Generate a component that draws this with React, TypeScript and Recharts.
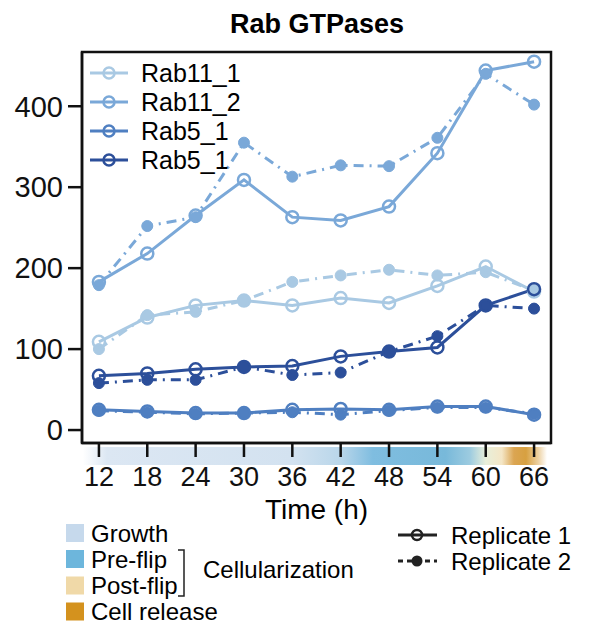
import { LineChart, Line, XAxis, YAxis } from "recharts";

const times = [12, 18, 24, 30, 36, 42, 48, 54, 60, 66];
const xTicks = [12, 18, 24, 30, 36, 42, 48, 54, 60, 66];
const yTicks = [0, 100, 200, 300, 400];

const rab11_1_rep1 = [109, 139, 154, 160, 154, 163, 157, 178, 202, 171];
const rab11_1_rep2 = [100, 142, 146, 160, 183, 191, 198, 191, 195, 172];
const rab11_2_rep1 = [183, 218, 265, 309, 263, 259, 276, 342, 444, 455];
const rab11_2_rep2 = [179, 252, 263, 355, 313, 327, 326, 361, 440, 402];
const rab5a_rep1 = [25, 23, 21, 21, 25, 26, 25, 29, 29, 19];
const rab5a_rep2 = [24, 22, 20, 21, 22, 19, 24, 28, 28, 20];
const rab5b_rep1 = [67, 70, 75, 78, 79, 91, 97, 102, 154, 174];
const rab5b_rep2 = [58, 62, 62, 78, 68, 71, 97, 116, 154, 150];

const geneNames = ["Rab11_1", "Rab11_2", "Rab5_1", "Rab5_1"];
const geneColors = ["#a9c9e3", "#7aa8d8", "#4f7fc1", "#2c4f9a"];

const stageNames = ["Growth", "Pre-flip", "Post-flip", "Cell release"];
const stageColors = ["#c6d9ec", "#6db6dc", "#f0d9a8", "#d4921e"];

// time-bar colour stops, in hours
const stageStops: [number, string][] = [
  [10, "#ffffff"],
  [13, "#dce7f3"],
  [36, "#d3e2f0"],
  [42, "#b9d6ea"],
  [46, "#7fbde0"],
  [55, "#78b9da"],
  [58, "#9ccbe0"],
  [60, "#e8efda"],
  [62, "#f4e6c6"],
  [63.5, "#dba552"],
  [65, "#d7a040"],
  [66.5, "#ecd0a0"],
  [67.7, "#ffffff"],
];

const data = times.map((t, i) => ({
  t,
  a1: rab11_1_rep1[i],
  a2: rab11_1_rep2[i],
  b1: rab11_2_rep1[i],
  b2: rab11_2_rep2[i],
  c1: rab5a_rep1[i],
  c2: rab5a_rep2[i],
  d1: rab5b_rep1[i],
  d2: rab5b_rep2[i],
}));

const series = [
  { key: "a", color: geneColors[0] },
  { key: "b", color: geneColors[1] },
  { key: "c", color: geneColors[2] },
  { key: "d", color: geneColors[3] },
];

const X_DOMAIN: [number, number] = [9.9, 68.1];
const Y_DOMAIN: [number, number] = [-16, 467];
const PLOT = { left: 82, right: 551, top: 52, bottom: 443 };
const FONT = "'Liberation Sans', Arial, sans-serif";
const DASH = "10 6 2 6";

const hourToPx = (h: number) =>
  PLOT.left + ((h - X_DOMAIN[0]) / (X_DOMAIN[1] - X_DOMAIN[0])) * (PLOT.right - PLOT.left);

function TimeBar() {
  const x0 = PLOT.left;
  const x1 = 547;
  return (
    <svg width={602} height={631} style={{ position: "absolute", left: 0, top: 0 }}>
      <defs>
        <linearGradient id="stage" x1="0" x2="1" y1="0" y2="0">
          {stageStops.map(([h, c], i) => (
            <stop key={i} offset={(hourToPx(h) - x0) / (x1 - x0)} stopColor={c} />
          ))}
        </linearGradient>
      </defs>
      <rect x={x0} y={447} width={x1 - x0} height={18} fill="url(#stage)" />
    </svg>
  );
}

function Overlay() {
  const rowsTop = [73, 102, 131, 160];
  const rowsBottom = [533, 559, 585.5, 611.5];
  return (
    <svg width={602} height={631} style={{ position: "absolute", left: 0, top: 0 }} fontFamily={FONT}>
      <rect
        x={PLOT.left}
        y={PLOT.top}
        width={PLOT.right - PLOT.left}
        height={PLOT.bottom - PLOT.top}
        fill="none"
        stroke="#111"
        strokeWidth={2.5}
      />
      <text x={317} y={33} textAnchor="middle" fontSize={27} fontWeight="bold">
        Rab GTPases
      </text>
      <text x={316.5} y={519} textAnchor="middle" fontSize={28}>
        Time (h)
      </text>
      {geneNames.map((n, i) => (
        <g key={i}>
          <line x1={90} x2={128} y1={rowsTop[i]} y2={rowsTop[i]} stroke={geneColors[i]} strokeWidth={3} />
          <circle cx={109} cy={rowsTop[i]} r={5.5} fill="none" stroke={geneColors[i]} strokeWidth={2.5} />
          <text x={141} y={rowsTop[i] + 8.5} fontSize={25}>
            {n}
          </text>
        </g>
      ))}
      {stageNames.map((n, i) => (
        <g key={i}>
          <rect x={66} y={rowsBottom[i] - 9} width={18} height={18} fill={stageColors[i]} />
          <text x={91} y={rowsBottom[i] + 8.5} fontSize={24}>
            {n}
          </text>
        </g>
      ))}
      <path d="M178,550 H184 V596 H178" fill="none" stroke="#222" strokeWidth={1.5} />
      <text x={203} y={577.5} fontSize={24}>
        Cellularization
      </text>
      <line x1={398} x2={437} y1={535} y2={535} stroke="#222" strokeWidth={3} />
      <circle cx={417} cy={535} r={5} fill="none" stroke="#222" strokeWidth={2.5} />
      <text x={451} y={543.5} fontSize={24}>
        Replicate 1
      </text>
      <line x1={398} x2={437} y1={561} y2={561} stroke="#222" strokeWidth={3} strokeDasharray="5 4" />
      <circle cx={417} cy={561} r={5.5} fill="#222" />
      <text x={451} y={569.5} fontSize={24}>
        Replicate 2
      </text>
    </svg>
  );
}

export default function App() {
  return (
    <div style={{ position: "absolute", left: 0, top: 0, width: 602, height: 631, background: "#fff" }}>
      <TimeBar />
      <div style={{ position: "absolute", left: 0, top: 0 }}>
        <LineChart
          width={602}
          height={631}
          data={data}
          margin={{ top: PLOT.top, right: 602 - PLOT.right, left: PLOT.left - 60, bottom: 631 - PLOT.bottom - 60 }}
          style={{ fontFamily: FONT }}
        >
          <XAxis
            dataKey="t"
            type="number"
            domain={X_DOMAIN}
            ticks={xTicks}
            height={60}
            tickSize={14}
            tickMargin={10}
            stroke="#111"
            strokeWidth={2.5}
            tick={{ fontSize: 27, fill: "#111" }}
            allowDataOverflow
          />
          <YAxis
            type="number"
            domain={Y_DOMAIN}
            ticks={yTicks}
            width={60}
            tickSize={14}
            tickMargin={5}
            stroke="#111"
            strokeWidth={2.5}
            tick={{ fontSize: 29, fill: "#111" }}
            allowDataOverflow
          />
          {series.map((s) => [
            <Line
              key={s.key + "2"}
              dataKey={s.key + "2"}
              stroke={s.color}
              strokeWidth={3}
              strokeDasharray={DASH}
              dot={{ r: 5.5, fill: s.color, stroke: s.color, strokeWidth: 1, strokeDasharray: "" }}
              activeDot={false}
              isAnimationActive={false}
            />,
            <Line
              key={s.key + "1"}
              dataKey={s.key + "1"}
              stroke={s.color}
              strokeWidth={3}
              dot={{ r: 6, fill: "none", stroke: s.color, strokeWidth: 2.5 }}
              activeDot={false}
              isAnimationActive={false}
            />,
          ])}
        </LineChart>
      </div>
      <Overlay />
    </div>
  );
}
